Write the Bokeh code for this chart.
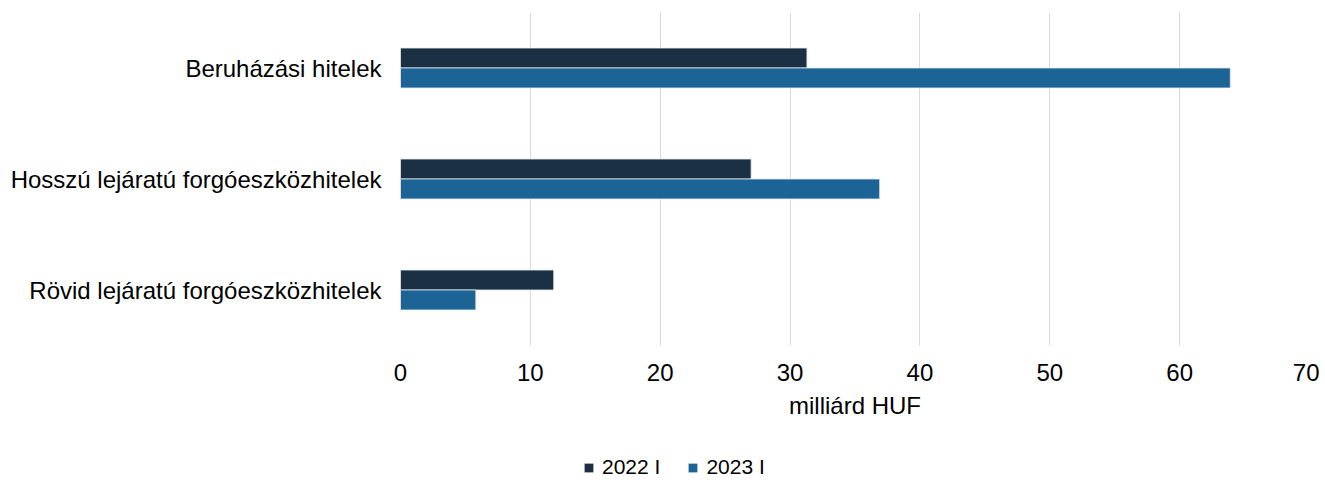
from bokeh.plotting import figure
from bokeh.layouts import column
from bokeh.models import ColumnDataSource, FactorRange, Range1d, Legend, LegendItem
from bokeh.transform import dodge
from bokeh.embed import file_html
from bokeh.resources import INLINE

categories = ["Beruházási hitelek", "Hosszú lejáratú forgóeszközhitelek", "Rövid lejáratú forgóeszközhitelek"]
series_names = ["2022 I", "2023 I"]
values_2022 = [31.3, 27.0, 11.8]
values_2023 = [63.9, 36.9, 5.8]
x_ticks = [0, 10, 20, 30, 40, 50, 60, 70]

colors = ["#1b3045", "#1d6496"]

src = ColumnDataSource(dict(cat=categories, v2022=values_2022, v2023=values_2023))

p = figure(frame_width=909, frame_height=333, output_backend="svg", toolbar_location=None,
           y_range=FactorRange(factors=list(reversed(categories))),
           x_range=Range1d(0, 70),
           min_border_left=400, min_border_right=10, min_border_top=12, min_border_bottom=85)

p.hbar(y=dodge("cat", 0.09, range=p.y_range), right="v2022", left=0, height=0.18,
       source=src, fill_color=colors[0], line_color="#e6eaef", line_width=0.8)
p.hbar(y=dodge("cat", -0.09, range=p.y_range), right="v2023", left=0, height=0.18,
       source=src, fill_color=colors[1], line_color="#e6eaef", line_width=0.8)

p.outline_line_color = None
p.ygrid.grid_line_color = None
p.xgrid.grid_line_color = "#d9d9d9"
p.xgrid.grid_line_width = 1
p.xaxis.ticker = x_ticks
p.xaxis.axis_line_color = None
p.yaxis.axis_line_color = None
p.xaxis.major_tick_line_color = None
p.yaxis.major_tick_line_color = None
p.xaxis.minor_tick_line_color = None
p.xaxis.major_label_text_font = "Liberation Sans"
p.yaxis.major_label_text_font = "Liberation Sans"
p.xaxis.major_label_text_font_size = "24px"
p.yaxis.major_label_text_font_size = "24px"
p.xaxis.major_label_text_color = "#000000"
p.yaxis.major_label_text_color = "#000000"
p.xaxis.major_label_standoff = 12
p.yaxis.major_label_standoff = 13
p.xaxis.axis_label = "milliárd HUF"
p.xaxis.axis_label_text_font = "Liberation Sans"
p.xaxis.axis_label_text_font_size = "24px"
p.xaxis.axis_label_text_font_style = "normal"
p.xaxis.axis_label_text_color = "#000000"
p.xaxis.axis_label_standoff = 8

# legend strip as a separate figure below the chart (legend proxies drawn off-range)
p2 = figure(frame_width=1317, frame_height=53, output_backend="svg", toolbar_location=None,
            x_range=Range1d(0, 1), y_range=Range1d(0, 1),
            min_border_left=0, min_border_right=0, min_border_top=0, min_border_bottom=0)
p2.axis.visible = False
p2.grid.visible = False
p2.outline_line_color = None
proxy = dict(y=[-5], right=[0.5])
l1 = p2.hbar(y="y", right="right", left=0, height=0.1, source=ColumnDataSource(proxy),
             fill_color=colors[0], line_color=None)
l2 = p2.hbar(y="y", right="right", left=0, height=0.1, source=ColumnDataSource(proxy),
             fill_color=colors[1], line_color=None)
legend = Legend(items=[LegendItem(label=series_names[0], renderers=[l1], index=0),
                       LegendItem(label=series_names[1], renderers=[l2], index=0)],
                orientation="horizontal", location=(583, 4),
                label_text_font="Liberation Sans", label_text_font_size="21px",
                label_text_color="#000000", glyph_width=11, glyph_height=11,
                label_standoff=8, spacing=27, border_line_color=None,
                background_fill_alpha=0, margin=0, padding=0)
p2.add_layout(legend, "center")

layout = column(p, p2, spacing=0)
open("out.html", "w").write(file_html(layout, INLINE))
